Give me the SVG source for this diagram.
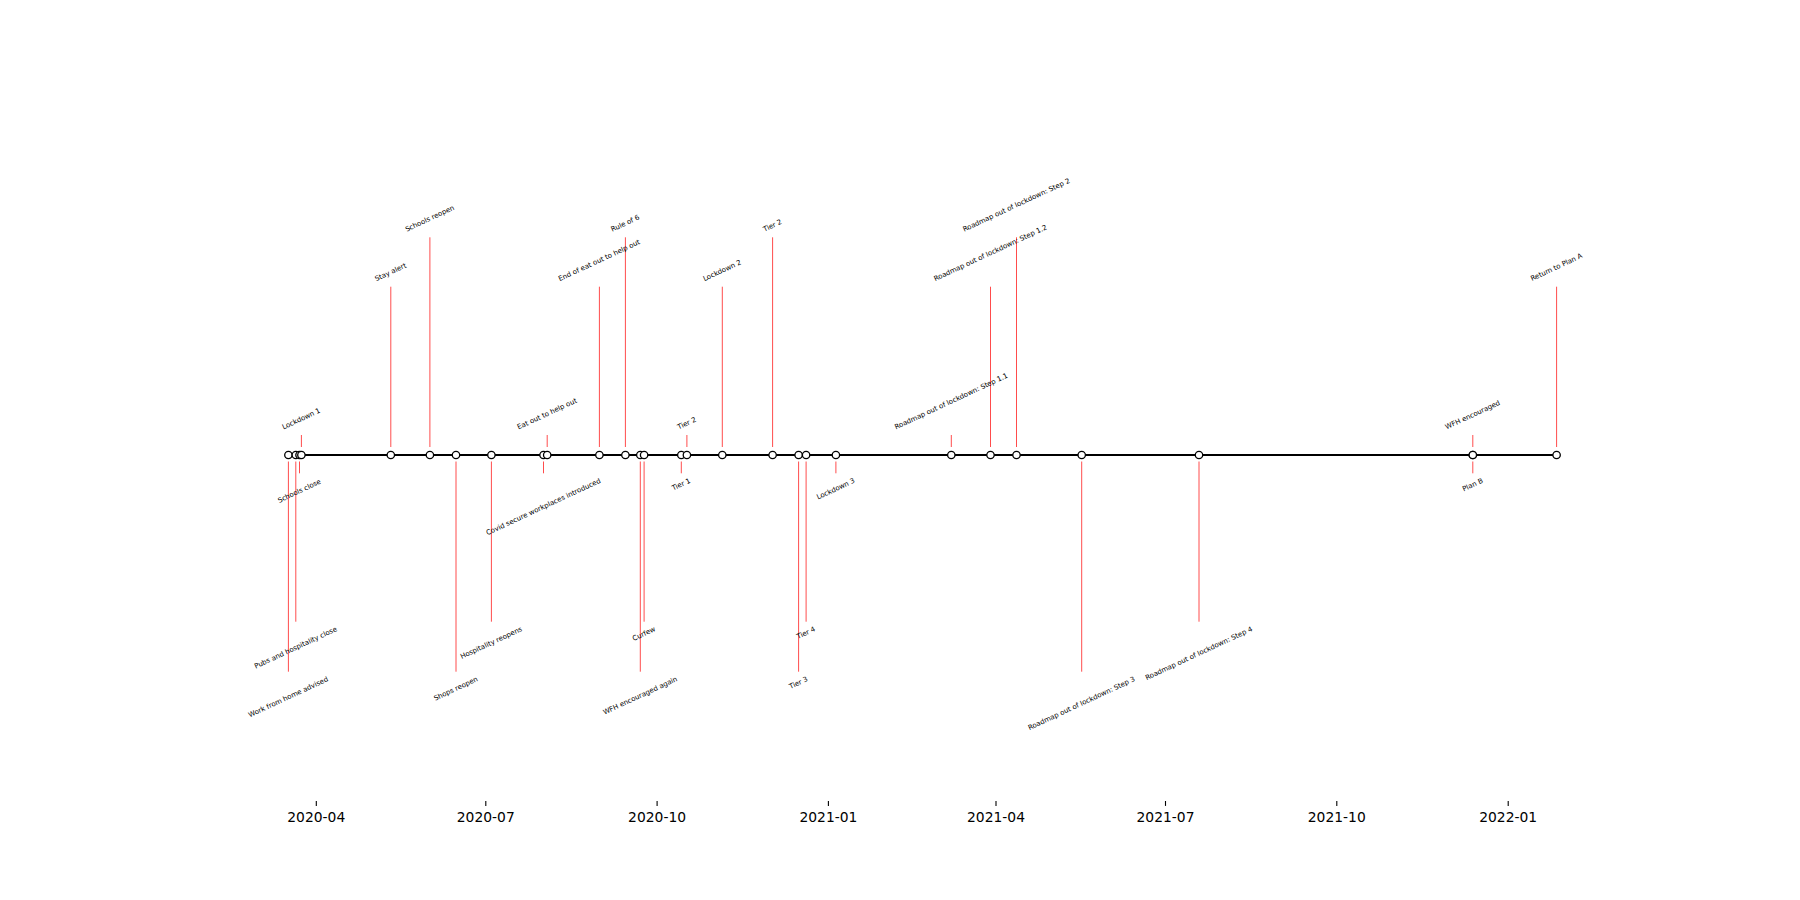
<svg xmlns="http://www.w3.org/2000/svg" width="1800" height="900" viewBox="0 0 1800 900">
<style>
.stem{stroke:#ff0000;stroke-opacity:0.7;stroke-width:1;fill:none}
.dot{fill:#ffffff;stroke:#000000;stroke-width:1.3}
.lbl{font-family:"DejaVu Sans","Liberation Sans",sans-serif;font-size:6.94px;text-anchor:middle;fill:#000000}
.tick{stroke:#000000;stroke-width:1.1}
.tlbl{font-family:"DejaVu Sans","Liberation Sans",sans-serif;font-size:13.89px;text-anchor:middle;fill:#000000}
.axis{stroke:#000000;stroke-width:2.08;fill:none}
</style>
<rect width="1800" height="900" fill="#ffffff"/>
<g id="connectors">
<line class="stem" x1="288.4" y1="461.5" x2="288.4" y2="671.7"/>
<line class="stem" x1="295.8" y1="461.5" x2="295.8" y2="621.7"/>
<line class="stem" x1="299.5" y1="461.5" x2="299.5" y2="473.3"/>
<line class="stem" x1="301.4" y1="447" x2="301.4" y2="435"/>
<line class="stem" x1="390.8" y1="447" x2="390.8" y2="286.7"/>
<line class="stem" x1="429.9" y1="447" x2="429.9" y2="237.3"/>
<line class="stem" x1="456.0" y1="461.5" x2="456.0" y2="671.7"/>
<line class="stem" x1="491.4" y1="461.5" x2="491.4" y2="621.7"/>
<line class="stem" x1="543.5" y1="461.5" x2="543.5" y2="473.3"/>
<line class="stem" x1="547.2" y1="447" x2="547.2" y2="435"/>
<line class="stem" x1="599.4" y1="447" x2="599.4" y2="286.7"/>
<line class="stem" x1="625.4" y1="447" x2="625.4" y2="237.3"/>
<line class="stem" x1="640.3" y1="461.5" x2="640.3" y2="671.7"/>
<line class="stem" x1="644.1" y1="461.5" x2="644.1" y2="621.7"/>
<line class="stem" x1="681.3" y1="461.5" x2="681.3" y2="473.3"/>
<line class="stem" x1="686.9" y1="447" x2="686.9" y2="435"/>
<line class="stem" x1="722.3" y1="447" x2="722.3" y2="286.7"/>
<line class="stem" x1="772.6" y1="447" x2="772.6" y2="237.3"/>
<line class="stem" x1="798.6" y1="461.5" x2="798.6" y2="671.7"/>
<line class="stem" x1="806.1" y1="461.5" x2="806.1" y2="621.7"/>
<line class="stem" x1="835.9" y1="461.5" x2="835.9" y2="473.3"/>
<line class="stem" x1="951.3" y1="447" x2="951.3" y2="435"/>
<line class="stem" x1="990.5" y1="447" x2="990.5" y2="286.7"/>
<line class="stem" x1="1016.5" y1="447" x2="1016.5" y2="237.3"/>
<line class="stem" x1="1081.7" y1="461.5" x2="1081.7" y2="671.7"/>
<line class="stem" x1="1199.0" y1="461.5" x2="1199.0" y2="621.7"/>
<line class="stem" x1="1472.8" y1="447" x2="1472.8" y2="435"/>
<line class="stem" x1="1472.8" y1="461.5" x2="1472.8" y2="473.3"/>
<line class="stem" x1="1556.6" y1="447" x2="1556.6" y2="286.7"/>
</g>
<g id="timeline-axis">
<line class="axis" x1="288.4" y1="455" x2="1556.6" y2="455"/>
</g>
<g id="ev-wfh-advised"><circle class="dot" cx="288.4" cy="455" r="3.7"/><text class="lbl" transform="translate(288.4 697.4) rotate(-25)" y="1.9">Work from home advised</text></g>
<g id="ev-pubs-close"><circle class="dot" cx="295.8" cy="455" r="3.7"/><text class="lbl" transform="translate(295.8 648.0) rotate(-25)" y="1.9">Pubs and hospitality close</text></g>
<g id="ev-schools-close"><circle class="dot" cx="299.5" cy="455" r="3.7"/><text class="lbl" transform="translate(299.5 491.3) rotate(-25)" y="1.9">Schools close</text></g>
<g id="ev-lockdown-1"><circle class="dot" cx="301.4" cy="455" r="3.7"/><text class="lbl" transform="translate(301.4 419.1) rotate(-25)" y="1.9">Lockdown 1</text></g>
<g id="ev-stay-alert"><circle class="dot" cx="390.8" cy="455" r="3.7"/><text class="lbl" transform="translate(390.8 272.4) rotate(-25)" y="1.9">Stay alert</text></g>
<g id="ev-schools-reopen"><circle class="dot" cx="429.9" cy="455" r="3.7"/><text class="lbl" transform="translate(429.9 218.8) rotate(-25)" y="1.9">Schools reopen</text></g>
<g id="ev-shops-reopen"><circle class="dot" cx="456.0" cy="455" r="3.7"/><text class="lbl" transform="translate(456.0 689.0) rotate(-25)" y="1.9">Shops reopen</text></g>
<g id="ev-hospitality-reopens"><circle class="dot" cx="491.4" cy="455" r="3.7"/><text class="lbl" transform="translate(491.4 643.1) rotate(-25)" y="1.9">Hospitality reopens</text></g>
<g id="ev-covid-secure"><circle class="dot" cx="543.5" cy="455" r="3.7"/><text class="lbl" transform="translate(543.5 507.1) rotate(-25)" y="1.9">Covid secure workplaces introduced</text></g>
<g id="ev-eat-out"><circle class="dot" cx="547.2" cy="455" r="3.7"/><text class="lbl" transform="translate(547.2 414.1) rotate(-25)" y="1.9">Eat out to help out</text></g>
<g id="ev-end-eat-out"><circle class="dot" cx="599.4" cy="455" r="3.7"/><text class="lbl" transform="translate(599.4 260.7) rotate(-25)" y="1.9">End of eat out to help out</text></g>
<g id="ev-rule-of-6"><circle class="dot" cx="625.4" cy="455" r="3.7"/><text class="lbl" transform="translate(625.4 223.6) rotate(-25)" y="1.9">Rule of 6</text></g>
<g id="ev-wfh-again"><circle class="dot" cx="640.3" cy="455" r="3.7"/><text class="lbl" transform="translate(640.3 696.0) rotate(-25)" y="1.9">WFH encouraged again</text></g>
<g id="ev-curfew"><circle class="dot" cx="644.1" cy="455" r="3.7"/><text class="lbl" transform="translate(644.1 634.1) rotate(-25)" y="1.9">Curfew</text></g>
<g id="ev-tier-1"><circle class="dot" cx="681.3" cy="455" r="3.7"/><text class="lbl" transform="translate(681.3 484.7) rotate(-25)" y="1.9">Tier 1</text></g>
<g id="ev-tier-2-oct"><circle class="dot" cx="686.9" cy="455" r="3.7"/><text class="lbl" transform="translate(686.9 423.6) rotate(-25)" y="1.9">Tier 2</text></g>
<g id="ev-lockdown-2"><circle class="dot" cx="722.3" cy="455" r="3.7"/><text class="lbl" transform="translate(722.3 270.8) rotate(-25)" y="1.9">Lockdown 2</text></g>
<g id="ev-tier-2-dec"><circle class="dot" cx="772.6" cy="455" r="3.7"/><text class="lbl" transform="translate(772.6 225.9) rotate(-25)" y="1.9">Tier 2</text></g>
<g id="ev-tier-3"><circle class="dot" cx="798.6" cy="455" r="3.7"/><text class="lbl" transform="translate(798.6 683.1) rotate(-25)" y="1.9">Tier 3</text></g>
<g id="ev-tier-4"><circle class="dot" cx="806.1" cy="455" r="3.7"/><text class="lbl" transform="translate(806.1 633.1) rotate(-25)" y="1.9">Tier 4</text></g>
<g id="ev-lockdown-3"><circle class="dot" cx="835.9" cy="455" r="3.7"/><text class="lbl" transform="translate(835.9 489.2) rotate(-25)" y="1.9">Lockdown 3</text></g>
<g id="ev-step-1-1"><circle class="dot" cx="951.3" cy="455" r="3.7"/><text class="lbl" transform="translate(951.3 401.6) rotate(-25)" y="1.9">Roadmap out of lockdown: Step 1.1</text></g>
<g id="ev-step-1-2"><circle class="dot" cx="990.5" cy="455" r="3.7"/><text class="lbl" transform="translate(990.5 253.3) rotate(-25)" y="1.9">Roadmap out of lockdown: Step 1.2</text></g>
<g id="ev-step-2"><circle class="dot" cx="1016.5" cy="455" r="3.7"/><text class="lbl" transform="translate(1016.5 205.3) rotate(-25)" y="1.9">Roadmap out of lockdown: Step 2</text></g>
<g id="ev-step-3"><circle class="dot" cx="1081.7" cy="455" r="3.7"/><text class="lbl" transform="translate(1081.7 703.7) rotate(-25)" y="1.9">Roadmap out of lockdown: Step 3</text></g>
<g id="ev-step-4"><circle class="dot" cx="1199.0" cy="455" r="3.7"/><text class="lbl" transform="translate(1199.0 653.7) rotate(-25)" y="1.9">Roadmap out of lockdown: Step 4</text></g>
<g id="ev-wfh-encouraged"><circle class="dot" cx="1472.8" cy="455" r="3.7"/><text class="lbl" transform="translate(1472.8 415.2) rotate(-25)" y="1.9">WFH encouraged</text></g>
<g id="ev-plan-b"><circle class="dot" cx="1472.8" cy="455" r="3.7"/><text class="lbl" transform="translate(1472.8 485.1) rotate(-25)" y="1.9">Plan B</text></g>
<g id="ev-plan-a"><circle class="dot" cx="1556.6" cy="455" r="3.7"/><text class="lbl" transform="translate(1556.6 267.5) rotate(-25)" y="1.9">Return to Plan A</text></g>
<g id="x-axis">
<line class="tick" x1="316.3" y1="801" x2="316.3" y2="805.9"/>
<line class="tick" x1="485.8" y1="801" x2="485.8" y2="805.9"/>
<line class="tick" x1="657.1" y1="801" x2="657.1" y2="805.9"/>
<line class="tick" x1="828.4" y1="801" x2="828.4" y2="805.9"/>
<line class="tick" x1="996.0" y1="801" x2="996.0" y2="805.9"/>
<line class="tick" x1="1165.5" y1="801" x2="1165.5" y2="805.9"/>
<line class="tick" x1="1336.8" y1="801" x2="1336.8" y2="805.9"/>
<line class="tick" x1="1508.2" y1="801" x2="1508.2" y2="805.9"/>
<text class="tlbl" x="316.3" y="821.7">2020-04</text>
<text class="tlbl" x="485.8" y="821.7">2020-07</text>
<text class="tlbl" x="657.1" y="821.7">2020-10</text>
<text class="tlbl" x="828.4" y="821.7">2021-01</text>
<text class="tlbl" x="996.0" y="821.7">2021-04</text>
<text class="tlbl" x="1165.5" y="821.7">2021-07</text>
<text class="tlbl" x="1336.8" y="821.7">2021-10</text>
<text class="tlbl" x="1508.2" y="821.7">2022-01</text>
</g>
</svg>
